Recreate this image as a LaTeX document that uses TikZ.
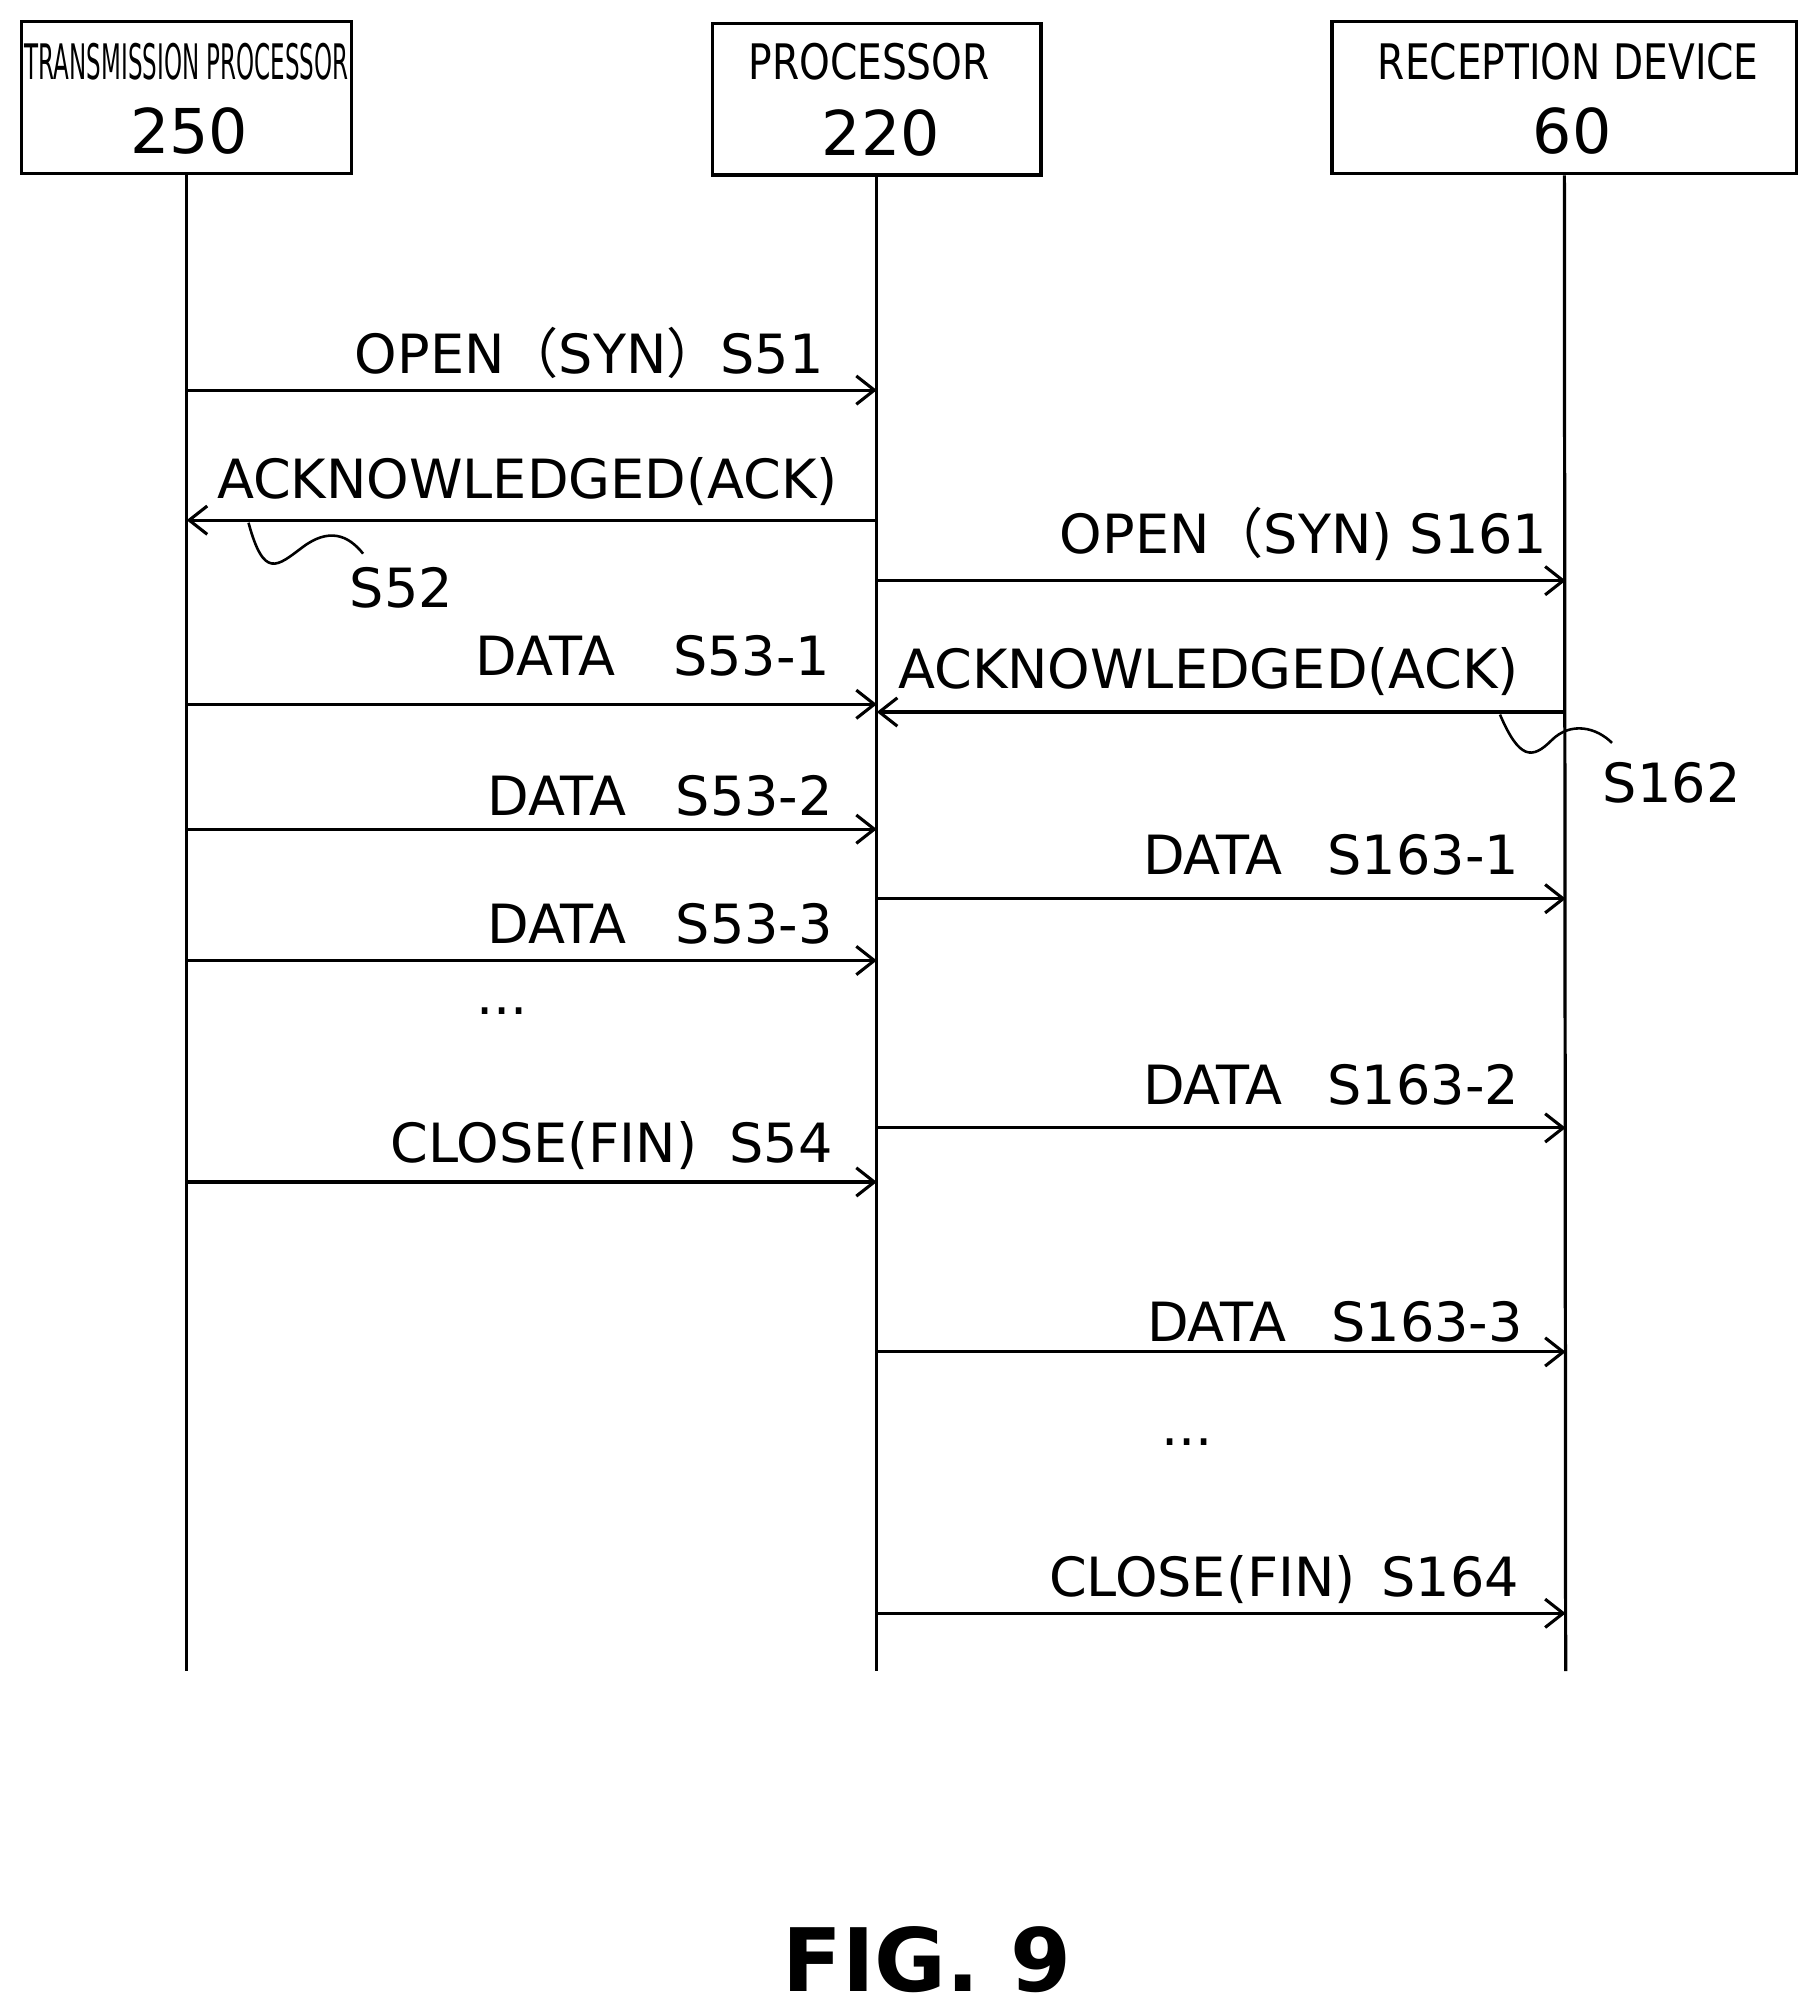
\documentclass[tikz,border=0pt]{standalone}
\usepackage{fontspec}
\setmainfont{DejaVu Sans}
\newfontfamily\cjk{Noto Sans CJK JP}
\newcommand{\lp}{{\cjk （}}
\newcommand{\rp}{{\cjk ）}}
\usetikzlibrary{arrows.meta}
\begin{document}
\begin{tikzpicture}[x=1pt,y=-1pt,
  box/.style={draw,line width=2.5pt,minimum width=#1,minimum height=118pt,inner sep=0pt},
  msg/.style={line width=2.4pt,-{Straight Barb[length=14pt,width=22pt,line width=2.4pt]}},
  life/.style={line width=2.5pt},
  lbl/.style={anchor=base east,inner sep=0pt,font=\fontsize{42}{50}\selectfont},
  hd/.style={font=\fontsize{38}{40}\selectfont},
  num/.style={font=\fontsize{48}{54}\selectfont}]
\useasboundingbox (0,0) rectangle (1410,1565);
\node[box=256pt] (b1) at (145,76) {};
\node[box=255pt] (b2) at (681,77) {};
\node[box=361pt] (b3) at (1215,76) {};
\node[hd,xscale=0.47] (t1) at (145,48) {TRANSMISSION PROCESSOR};
\node[hd,xscale=0.8] (t2) at (675,48) {PROCESSOR};
\node[hd,xscale=0.8] (t3) at (1218,48) {RECEPTION DEVICE};
\node[num] (n1) at (147,102) {250};
\node[num] (n2) at (684,103) {220};
\node[num] (n3) at (1221,102) {60};
\coordinate (e1) at (145,1298);
\coordinate (e2) at (681,1298);
\coordinate (e3) at (1216,1298);
\draw[life] (b1.south) -- (e1);
\draw[life] (b2.south) -- (e2);
\draw[life] (b3.south) -- (e3);
\coordinate (a1) at (145,303); \coordinate (a2) at (681,303);
\draw[msg] (a1) -- (a2);
\node[lbl] (l1) at (640,290) {OPEN\lp SYN\rp S51};
\coordinate (c1) at (681,404); \coordinate (c2) at (145,404);
\draw[msg] (c1) -- (c2);
\node[lbl] (l2) at (651,387) {ACKNOWLEDGED(ACK)};
\coordinate (s1) at (193,406); \coordinate (s2) at (282,430);
\draw[line width=2pt] (s1) .. controls (205,450) and (215,440) .. (235,425) .. controls (255,410) and (270,415) .. (s2);
\node[lbl] (l3) at (352,472) {S52};
\coordinate (d1) at (681,451); \coordinate (d2) at (1216,451);
\draw[msg] (d1) -- (d2);
\node[lbl] (l4) at (1202,430) {OPEN\lp SYN) S161};
\coordinate (f1) at (145,547); \coordinate (f2) at (681,547);
\draw[msg] (f1) -- (f2);
\node[lbl] (l5) at (645,525) {DATA\hspace{45pt}S53-1};
\coordinate (g1) at (1216,553); \coordinate (g2) at (681,553);
\draw[msg] (g1) -- (g2);
\node[lbl] (l6) at (1180,535) {ACKNOWLEDGED(ACK)};
\coordinate (h1) at (1165,555); \coordinate (h2) at (1252,577);
\draw[line width=2pt] (h1) .. controls (1180,590) and (1190,590) .. (1205,575) .. controls (1220,560) and (1240,565) .. (h2);
\node[lbl] (l7) at (1352,623) {S162};
\coordinate (i1) at (145,644); \coordinate (i2) at (681,644);
\draw[msg] (i1) -- (i2);
\node[lbl] (l8) at (647,633) {DATA\hspace{38pt}S53-2};
\coordinate (j1) at (681,698); \coordinate (j2) at (1216,698);
\draw[msg] (j1) -- (j2);
\node[lbl] (l9) at (1180,679) {DATA\hspace{35pt}S163-1};
\coordinate (k1) at (145,746); \coordinate (k2) at (681,746);
\draw[msg] (k1) -- (k2);
\node[lbl] (l10) at (647,733) {DATA\hspace{38pt}S53-3};
\node[font=\fontsize{42}{50}\selectfont] (dt1) at (390,785) {...};
\coordinate (m1) at (681,876); \coordinate (m2) at (1216,876);
\draw[msg] (m1) -- (m2);
\node[lbl] (l11) at (1180,858) {DATA\hspace{35pt}S163-2};
\coordinate (o1) at (145,918); \coordinate (o2) at (681,918);
\draw[msg] (o1) -- (o2);
\node[lbl] (l12) at (647,903) {CLOSE(FIN)\hspace{25pt}S54};
\coordinate (p1) at (681,1050); \coordinate (p2) at (1216,1050);
\draw[msg] (p1) -- (p2);
\node[lbl] (l13) at (1183,1042) {DATA\hspace{35pt}S163-3};
\node[font=\fontsize{42}{50}\selectfont] (dt2) at (922,1120) {...};
\coordinate (q1) at (681,1253); \coordinate (q2) at (1216,1253);
\draw[msg] (q1) -- (q2);
\node[lbl] (l14) at (1180,1240) {CLOSE(FIN)\hspace{20pt}S164};
\node[font=\fontsize{68}{80}\selectfont\bfseries] (fig) at (720,1522) {FIG. 9};
\end{tikzpicture}
\end{document}
